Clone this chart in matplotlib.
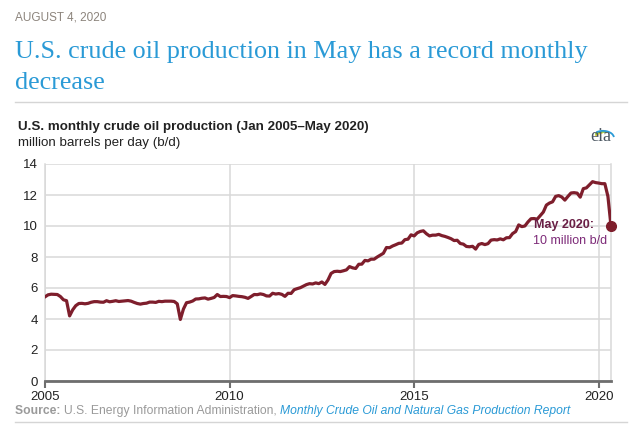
import numpy as np
import pandas as pd
import matplotlib
matplotlib.use('Agg')
import matplotlib.pyplot as plt
from matplotlib.patches import Arc
from matplotlib.lines import Line2D

# Monthly U.S. crude oil production, million b/d
prod_2005 = [5.43, 5.56, 5.60, 5.59, 5.58, 5.45, 5.24, 5.18, 4.20, 4.59, 4.86, 5.00]
prod_2006 = [5.01, 4.98, 5.01, 5.08, 5.12, 5.12, 5.09, 5.08, 5.18, 5.11, 5.14, 5.18]
prod_2007 = [5.13, 5.15, 5.17, 5.19, 5.15, 5.07, 5.00, 4.96, 5.00, 5.02, 5.09, 5.09]
prod_2008 = [5.07, 5.14, 5.12, 5.15, 5.15, 5.15, 5.13, 4.98, 3.97, 4.64, 5.05, 5.09]
prod_2009 = [5.16, 5.29, 5.30, 5.34, 5.36, 5.28, 5.33, 5.39, 5.58, 5.45, 5.46, 5.45]
prod_2010 = [5.38, 5.51, 5.49, 5.46, 5.44, 5.40, 5.33, 5.45, 5.58, 5.57, 5.62, 5.58]
prod_2011 = [5.49, 5.48, 5.66, 5.61, 5.64, 5.59, 5.46, 5.66, 5.65, 5.89, 5.96, 6.02]
prod_2012 = [6.12, 6.22, 6.28, 6.26, 6.33, 6.28, 6.39, 6.23, 6.52, 6.94, 7.06, 7.08]
prod_2013 = [7.06, 7.11, 7.17, 7.38, 7.30, 7.26, 7.53, 7.54, 7.78, 7.75, 7.86, 7.86]
prod_2014 = [8.00, 8.12, 8.24, 8.61, 8.60, 8.71, 8.79, 8.88, 8.90, 9.12, 9.15, 9.43]
prod_2015 = [9.36, 9.56, 9.65, 9.69, 9.50, 9.36, 9.41, 9.41, 9.46, 9.38, 9.33, 9.26]
prod_2016 = [9.18, 9.06, 9.08, 8.87, 8.83, 8.68, 8.66, 8.69, 8.51, 8.81, 8.87, 8.80]
prod_2017 = [8.86, 9.09, 9.12, 9.10, 9.17, 9.11, 9.24, 9.25, 9.51, 9.64, 10.07, 9.96]
prod_2018 = [10.00, 10.26, 10.47, 10.48, 10.44, 10.67, 10.90, 11.35, 11.48, 11.56, 11.91, 11.96]
prod_2019 = [11.87, 11.67, 11.91, 12.13, 12.15, 12.12, 11.86, 12.41, 12.46, 12.66, 12.86, 12.80]
prod_2020 = [12.77, 12.73, 12.73, 11.91, 10.00]

year_ticks = [2005, 2010, 2015, 2020]
y_ticks = [0, 2, 4, 6, 8, 10, 12, 14]

values = (prod_2005 + prod_2006 + prod_2007 + prod_2008 + prod_2009 + prod_2010 +
          prod_2011 + prod_2012 + prod_2013 + prod_2014 + prod_2015 + prod_2016 +
          prod_2017 + prod_2018 + prod_2019 + prod_2020)
dates = pd.date_range('2005-01-01', periods=len(values), freq='MS')
df = pd.DataFrame({'date': dates, 'prod': values})
df['x'] = df['date'].dt.year + (df['date'].dt.month - 1) / 12.0

W, H = 643, 425
LINE = '#7e1e2c'
GRID = '#d9d9d9'


def fx(x):
    return x / W


def fy(y):
    return 1 - y / H


fig = plt.figure(figsize=(W / 100, H / 100), dpi=100)
fig.patch.set_facecolor('white')

# header
fig.text(fx(15), fy(18), 'AUGUST 4, 2020', fontsize=8.5, color='#8c847c',
         family='Liberation Sans', va='center', ha='left')
fig.text(fx(15), fy(41), 'U.S. crude oil production in May has a record monthly\ndecrease',
         fontsize=18.8, color='#2a9ad6', family='Liberation Serif',
         va='top', ha='left', linespacing=1.55)
fig.add_artist(Line2D([fx(15), fx(627)], [fy(102), fy(102)], color='#d5d5d5', lw=1))

fig.text(fx(18), fy(127), 'U.S. monthly crude oil production (Jan 2005\u2013May 2020)',
         fontsize=9.6, fontweight='bold', color='#222222', family='Liberation Sans',
         va='center', ha='left')
fig.text(fx(18), fy(143), 'million barrels per day (b/d)', fontsize=9.6, color='#222222',
         family='Liberation Sans', va='center', ha='left')

# main axes
ax = fig.add_axes([fx(45), fy(381), fx(611) - fx(45), fy(164) - fy(381)])
ax.plot(df['x'], df['prod'], color=LINE, lw=2.3, solid_joinstyle='round', zorder=3)
ax.plot(df['x'].iloc[-1], df['prod'].iloc[-1], 'o', color=LINE, ms=7, zorder=4, clip_on=False)

ax.set_xlim(2005, df['x'].iloc[-1])
ax.set_ylim(0, 14)
ax.set_yticks(y_ticks)
ax.set_xticks(year_ticks)
ax.set_xticklabels([str(t) for t in year_ticks])
ax.grid(True, color=GRID, lw=1.1, zorder=0)
ax.set_axisbelow(True)
for s in ['left', 'right', 'top']:
    ax.spines[s].set_color(GRID)
    ax.spines[s].set_linewidth(1.1)
ax.spines['top'].set_visible(False)
ax.spines['bottom'].set_color('#6e6e6e')
ax.spines['bottom'].set_linewidth(2)
ax.tick_params(axis='y', length=0, pad=5, labelsize=9.5, labelcolor='#222222')
ax.tick_params(axis='x', length=5, width=1.5, color='#6e6e6e', pad=2,
               labelsize=9.5, labelcolor='#222222')
for lab in ax.get_xticklabels() + ax.get_yticklabels():
    lab.set_family('Liberation Sans')

ax.annotate('May 2020:', xy=(df['x'].iloc[-1], df['prod'].iloc[-1]),
            xytext=(-12, 0.5), textcoords='offset points', ha='right', va='center',
            fontsize=9, fontweight='bold', color='#6a1f45', family='Liberation Sans')
ax.annotate('10 million b/d', xy=(df['x'].iloc[-1], df['prod'].iloc[-1]),
            xytext=(-3, -10.5), textcoords='offset points', ha='right', va='center',
            fontsize=9, color='#7d2a78', family='Liberation Sans')

# eia logo (axes in pixel units, y measured up from y=148)
lax = fig.add_axes([fx(585), fy(148), fx(35), fy(120) - fy(148)])
lax.set_xlim(0, 35)
lax.set_ylim(0, 28)
lax.set_aspect('equal')
lax.axis('off')
lax.text(16, 2.5, 'eia', fontsize=13, family='Liberation Serif', color='#4a5560',
         ha='center', va='bottom')
for r, c, t1, t2 in [(8, '#f2d22e', 95, 165), (9.5, '#8cc63f', 55, 155), (11, '#2a9ad6', 5, 140)]:
    lax.add_patch(Arc((18, 10), 2 * r, 1.3 * r, theta1=t1, theta2=t2, color=c, lw=1.3))

# source line, pieces placed one after another
src_parts = [('Source: ', 'bold', 'normal', '#9a9a9a'),
             ('U.S. Energy Information Administration, ', 'normal', 'normal', '#9a9a9a'),
             ('Monthly Crude Oil and Natural Gas Production Report', 'normal', 'italic', '#2a9ad6')]
renderer = fig.canvas.get_renderer()
x0 = 15
for txt, wt, st, col in src_parts:
    t = fig.text(fx(x0), fy(411), txt, fontsize=8.7, fontweight=wt, style=st, color=col,
                 family='Liberation Sans', va='center', ha='left')
    bb = t.get_window_extent(renderer)
    x0 += bb.width
fig.add_artist(Line2D([fx(15), fx(627)], [fy(422), fy(422)], color='#d5d5d5', lw=1))

fig.savefig('out.png', dpi=100, facecolor='white')
